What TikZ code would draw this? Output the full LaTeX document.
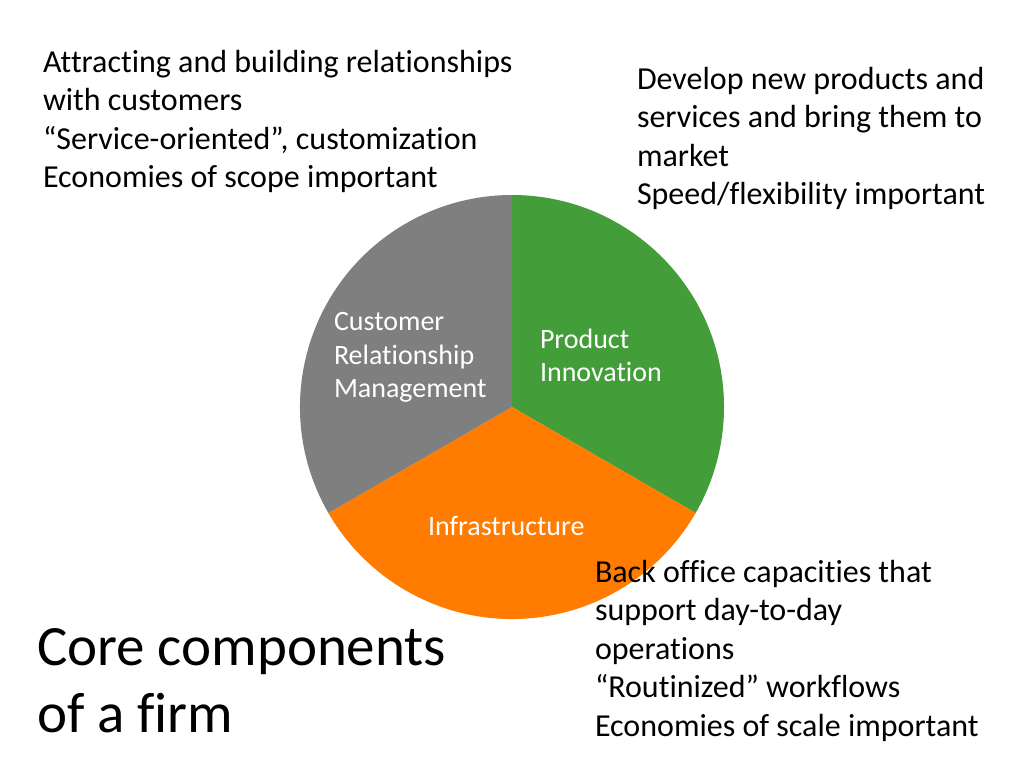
\documentclass[tikz,border=0pt]{standalone}
\usepackage{fontspec}
\setmainfont{Carlito}[Ligatures={NoCommon}]
\definecolor{pgray}{RGB}{127,127,127}
\definecolor{pgreen}{RGB}{67,158,58}
\definecolor{porange}{RGB}{255,124,0}
\tikzset{
  body/.style={anchor=base west, inner sep=0pt, outer sep=0pt, align=left, text=black,
    font=\fontsize{32}{38.5}\selectfont},
  seclabel/.style={anchor=base west, inner sep=0pt, outer sep=0pt, align=left, text=white,
    font=\fontsize{28}{33.5}\selectfont},
  titletext/.style={anchor=base west, inner sep=0pt, outer sep=0pt, align=left, text=black,
    font=\fontsize{57}{67}\selectfont},
}
\begin{document}
\begin{tikzpicture}[x=1pt,y=1pt]
\useasboundingbox[fill=white] (0,0) rectangle (1024,768);
\coordinate (c) at (512,361);
% pie sectors
\fill[pgreen]  (c) -- ([shift={(90:212)}]c)  arc[start angle=90,  end angle=-30,  radius=212] -- cycle;
\fill[porange] (c) -- ([shift={(-30:212)}]c) arc[start angle=-30, end angle=-150, radius=212] -- cycle;
\fill[pgray]   (c) -- ([shift={(210:212)}]c) arc[start angle=210, end angle=90,   radius=212] -- cycle;
% sector labels
\node[seclabel] (crm) at (334,370) {Customer\\Relationship\\Management};
\node[seclabel] (pi) at (540,386) {Product\\Innovation};
\node[seclabel] (inf) at (428,232) {Infrastructure};
% descriptions
\node[body] (tl) at (43,580) {Attracting and building relationships\\with customers\\“Service-oriented”, customization\\Economies of scope important};
\node[body] (tr) at (637,563) {Develop new products and\\services and bring them to\\market\\Speed/flexibility important};
\node[body] (br) at (595,32) {Back office capacities that\\support day-to-day\\operations\\“Routinized” workflows\\Economies of scale important};
\node[titletext] (title) at (37,36) {Core components\\of a firm};
\end{tikzpicture}
\end{document}
